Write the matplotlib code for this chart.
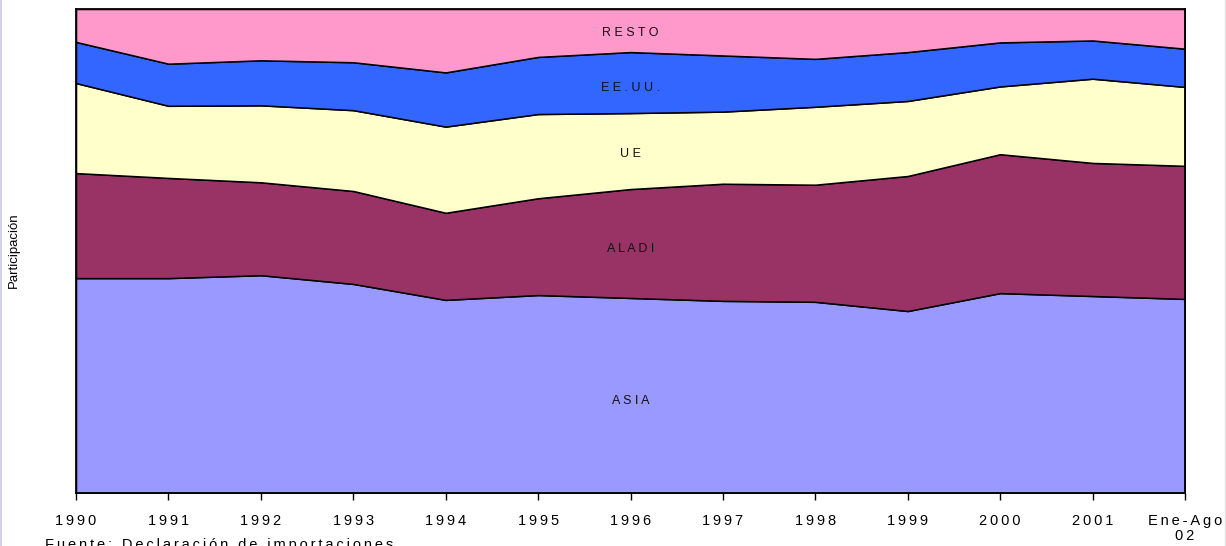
import matplotlib
matplotlib.use("Agg")
import matplotlib.pyplot as plt
from matplotlib.lines import Line2D

plt.rcParams["font.family"] = ["Liberation Sans", "DejaVu Sans"]

# participacion (%) por origen de las importaciones
years = ["1990", "1991", "1992", "1993", "1994", "1995", "1996",
         "1997", "1998", "1999", "2000", "2001", "Ene-Ago\n02"]
asia = [44.4, 44.4, 45.0, 43.2, 39.9, 40.9, 40.3, 39.7, 39.5, 37.6, 41.3, 40.7, 40.1]
aladi = [21.7, 20.7, 19.2, 19.2, 18.0, 20.0, 22.5, 24.2, 24.2, 27.9, 28.7, 27.5, 27.5]
ue = [18.6, 14.9, 15.9, 16.7, 17.8, 17.4, 15.7, 14.9, 16.1, 15.5, 14.0, 17.4, 16.3]
eeuu = [8.5, 8.7, 9.3, 9.9, 11.2, 11.8, 12.6, 11.6, 9.9, 10.1, 9.1, 7.9, 7.9]
resto = [6.8, 11.3, 10.6, 11.0, 13.1, 9.9, 8.9, 9.6, 10.3, 8.9, 6.9, 6.5, 8.2]

names = ["ASIA", "ALADI", "UE", "EE.UU.", "RESTO"]
colors = ["#9999FF", "#993366", "#FFFFCC", "#3366FF", "#FF99CC"]
label_y = [19.1, 50.4, 70.0, 83.6, 95.0]


def spaced(s, sep="\u2009"):
    return "\n".join(sep.join(line) for line in s.split("\n"))


W, H = 1226, 546
fig = plt.figure(figsize=(W / 100, H / 100), dpi=100)
ax = fig.add_axes([76 / W, 1 - 493 / H, (1185 - 76) / W, (493 - 9) / H])

x = list(range(len(years)))
ax.stackplot(x, asia, aladi, ue, eeuu, resto, colors=colors,
             edgecolor="black", linewidth=1.1)

ax.set_xlim(0, len(years) - 1)
ax.set_ylim(0, 100)
ax.set_yticks([])
ax.set_xticks(x)
ax.set_xticklabels([spaced(y) for y in years], fontsize=10.5, linespacing=1.15)
ax.tick_params(axis="x", direction="out", length=5, width=1, pad=10)
for sp in ax.spines.values():
    sp.set_linewidth(1.3)

for name, yy in zip(names, label_y):
    ax.text(6.0, yy, " ".join(name), ha="center", va="center",
            fontsize=9, color="#111111")

fig.text(14 / W, 1 - 250 / H, "Participación", rotation=90,
         ha="center", va="center", fontsize=9.5)
fig.text(45 / W, 1 - 538 / H, spaced("Fuente: Declaración de importaciones"),
         ha="left", va="top", fontsize=10.5)

fig.add_artist(Line2D([1 / W, 1 / W], [0, 1], transform=fig.transFigure,
                      color="#D0D0F0", linewidth=1.5))
fig.add_artist(Line2D([1225 / W, 1225 / W], [0, 1], transform=fig.transFigure,
                      color="#E4E4E4", linewidth=1))

fig.savefig("out.png", dpi=100)
